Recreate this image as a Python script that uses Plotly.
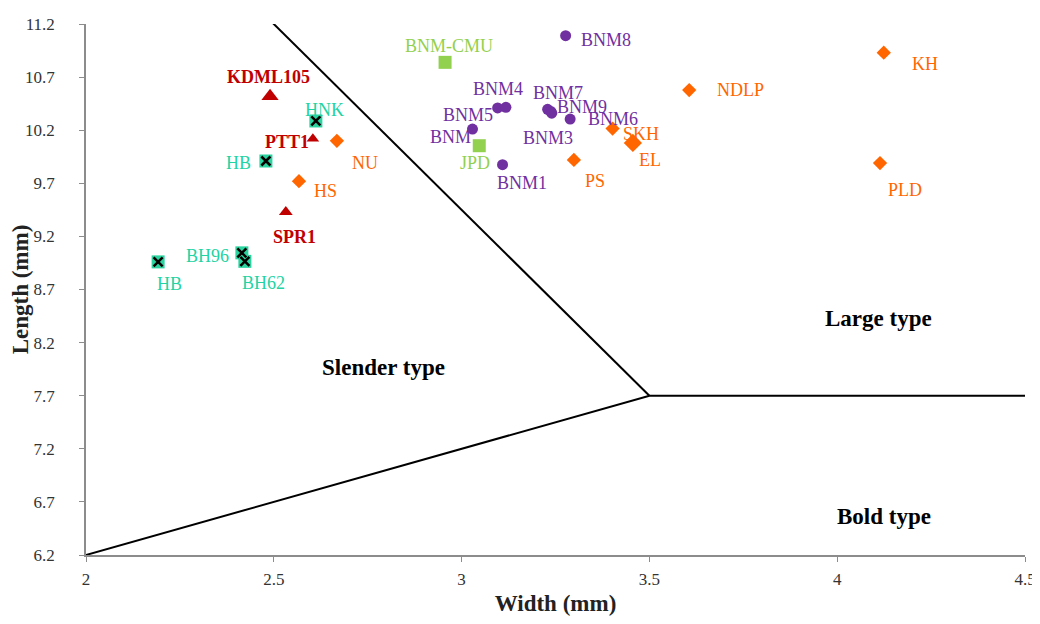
import plotly.graph_objects as go

# ---- data ----
red_names = ["KDML105", "PTT1", "SPR1"]
red_w = [2.49, 2.604, 2.532]
red_l = [10.52, 10.12, 9.43]

teal_names = ["HNK", "HB", "BH96", "BH62", "HB"]
teal_w = [2.612, 2.479, 2.415, 2.423, 2.192]
teal_l = [10.287, 9.91, 9.045, 8.965, 8.96]

orange_names = ["NU", "HS", "PS", "SKH", "EL", "NDLP", "KH", "PLD"]
orange_w = [2.668, 2.567, 3.299, 3.402, 3.456, 3.606, 4.124, 4.114]
orange_l = [10.10, 9.72, 9.92, 10.215, 10.08, 10.578, 10.93, 9.89]

purple_names = ["BNM8", "BNM5", "BNM4", "BNM7", "BNM3", "BNM9", "BNM6", "BNM", "BNM1"]
purple_w = [3.277, 3.096, 3.118, 3.229, 3.238, 3.240, 3.289, 3.029, 3.109]
purple_l = [11.09, 10.41, 10.415, 10.397, 10.375, 10.36, 10.305, 10.211, 9.875]

green_names = ["BNM-CMU", "JPD"]
green_w = [2.956, 3.047]
green_l = [10.839, 10.054]

bound_w = [2.0, 3.5, 4.5]
bound_l = [6.2, 7.7, 7.7]
bound2_w = [3.5, 2.4857]
bound2_l = [7.7, 11.25]

region_names = ["Slender type", "Large type", "Bold type"]
region_w = [2.793, 4.111, 4.125]
region_l = [7.97, 8.43, 6.567]

x_ticks = [2, 2.5, 3, 3.5, 4, 4.5]
y_ticks = [6.2, 6.7, 7.2, 7.7, 8.2, 8.7, 9.2, 9.7, 10.2, 10.7, 11.2]

# ---- styling ----
C_RED = "#C00000"
C_TEAL = "#22D3A3"
C_TEAL_M = "#2BD39F"
C_ORANGE = "#FF6600"
C_PURPLE = "#7030A0"
C_GREEN = "#92D050"
SERIF = "Liberation Serif"

red_sizes = [15, 11, 12]
orange_sizes = [11, 11, 11, 11, 14, 11, 11, 11]

# label pixel offsets (dx right, dy up)
red_off = [(-2, 19), (-26, -3), (9, -25)]
teal_off = [(9, 11), (-27, -2), (-34, -3), (19, -22), (11, -22)]
orange_off = [(28, -22), (27, -10), (21, -21), (28, -5), (17, -17), (51, 0), (41, -11), (25, -27)]
purple_off = [(40, -4), (-30, -7), (-8, 18), (10, 16), (-3, -26), (30, 6), (43, 0), (-22, -8), (19, -18)]
green_off = [(4, 16), (-4, -17)]

fig = go.Figure()

fig.add_trace(go.Scatter(x=bound_w, y=bound_l, mode="lines",
                         line=dict(color="black", width=2), hoverinfo="skip", showlegend=False))
fig.add_trace(go.Scatter(x=bound2_w, y=bound2_l, mode="lines",
                         line=dict(color="black", width=2), hoverinfo="skip", showlegend=False))

def mk(symbol, size, color, **kw):
    return dict(symbol=symbol, size=size, color=color, opacity=1,
                line=kw.pop("line", dict(width=0)), **kw)

fig.add_trace(go.Scatter(x=red_w, y=red_l, mode="markers", opacity=1,
                         marker=mk("triangle-up", red_sizes, C_RED), showlegend=False))
fig.add_trace(go.Scatter(x=teal_w, y=teal_l, mode="markers", opacity=1,
                         marker=mk("square", 13, C_TEAL_M), showlegend=False))
fig.add_trace(go.Scatter(x=teal_w, y=teal_l, mode="markers", opacity=1,
                         marker=mk("x-thin-open", 9, "black", line=dict(color="black", width=2.5)),
                         showlegend=False))
fig.add_trace(go.Scatter(x=orange_w, y=orange_l, mode="markers", opacity=1,
                         marker=mk("diamond", orange_sizes, C_ORANGE), showlegend=False))
fig.add_trace(go.Scatter(x=purple_w, y=purple_l, mode="markers", opacity=1,
                         marker=mk("circle", 11, C_PURPLE), showlegend=False))
fig.add_trace(go.Scatter(x=green_w, y=green_l, mode="markers", opacity=1,
                         marker=mk("square", 13, C_GREEN), showlegend=False))

def add_labels(names, xs, ys, offs, color, bold=False):
    for n, x, y, (dx, dy) in zip(names, xs, ys, offs):
        fig.add_annotation(x=x, y=y, text=f"<b>{n}</b>" if bold else n,
                           showarrow=False, xshift=dx, yshift=dy,
                           font=dict(family=SERIF, size=18, color=color))

add_labels(red_names, red_w, red_l, red_off, C_RED, bold=True)
add_labels(teal_names, teal_w, teal_l, teal_off, C_TEAL)
add_labels(orange_names, orange_w, orange_l, orange_off, C_ORANGE)
add_labels(purple_names, purple_w, purple_l, purple_off, C_PURPLE)
add_labels(green_names, green_w, green_l, green_off, C_GREEN)

for n, x, y in zip(region_names, region_w, region_l):
    fig.add_annotation(x=x, y=y, text=f"<b>{n}</b>", showarrow=False,
                       font=dict(family=SERIF, size=23, color="black"))

axis_common = dict(showgrid=False, zeroline=False, showline=True, linecolor="#8c8c8c",
                   linewidth=1.5, ticks="outside", ticklen=5, tickcolor="#8c8c8c",
                   automargin=False, ticklabeloverflow="allow",
                   tickfont=dict(family=SERIF, size=17, color="#333333"))

# the page body adds an 8px offset, so the figure is sized to fit the window
fig.update_layout(
    width=1032, height=608,
    paper_bgcolor="white", plot_bgcolor="white",
    margin=dict(l=78, r=15, t=16, b=61),
    xaxis=dict(range=[2, 4.5], tickvals=x_ticks, ticktext=[f"{v:g}" for v in x_ticks],
               ticklabelstandoff=3,
               title=dict(text="<b>Width (mm)</b>", font=dict(family=SERIF, size=23, color="#222"),
                          standoff=9),
               **axis_common),
    yaxis=dict(range=[6.2, 11.2], tickvals=y_ticks, ticktext=[f"{v:.1f}" for v in y_ticks],
               ticklabelstandoff=21,
               title=dict(text="<b>Length (mm)</b>", font=dict(family=SERIF, size=23, color="#222"),
                          standoff=1),
               **axis_common),
)

fig.write_html("out.html")
